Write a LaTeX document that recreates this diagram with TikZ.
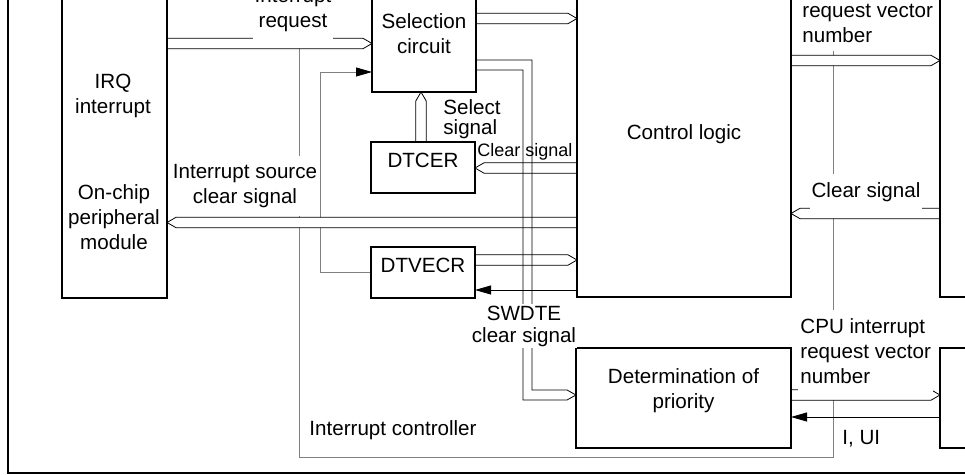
\documentclass[tikz,border=0pt]{standalone}
\usepackage{fontspec}
\setmainfont{Liberation Sans}
\usetikzlibrary{calc,fit,arrows.meta,backgrounds}

\definecolor{ctlgray}{gray}{0.5}
\newcommand\lbl{\fontsize{10.3}{12.5}\selectfont}
\def\busw{2.6pt}
\def\bushd{4.5pt}

\tikzset{
  box/.style={draw, inner sep=0pt, outer sep=0pt, font=\lbl, align=center},
  txt/.style={font=\lbl, align=center, inner sep=1pt},
  % hollow bus arrow, pointed at the target end
  bus/.style={draw, fill=white, line join=miter, to path={
      ($(\tikztostart)!\busw!90:(\tikztotarget)$)
      -- ($(\tikztotarget)!\bushd!(\tikztostart)!\busw!90:(\tikztotarget)$)
      -- (\tikztotarget)
      -- ($(\tikztotarget)!\bushd!(\tikztostart)!\busw!-90:(\tikztotarget)$)
      -- ($(\tikztostart)!\busw!-90:(\tikztotarget)$)}},
  sig/.style={-{Triangle[length=8pt,width=4.5pt,color=black]}}
}

\begin{document}
\begin{tikzpicture}[x=0.5pt, y=0.5pt, line width=0.55pt]

  \useasboundingbox (0,0) rectangle (965,-475);
  \clip (0,0) rectangle (965,-475);

  % blocks
  \node[box, fit={(62,20) (167,-298)}] (src) {};
  \node[box, fit={(372,9) (476,-92)}] (sel) {Selection\\circuit};
  \node[box, fit={(577,14) (791,-297)}] (ctl) {Control logic};
  \node[box, fit={(371,-142) (475,-193)}] (dtcer) {DTCER};
  \node[box, fit={(371,-247) (475,-298)}] (dtvecr) {DTVECR};
  \node[box, fit={(576,-348) (791,-448)}] (prio) {Determination of\\priority};
  \node[box, fit={(940,20) (1000,-297)}] (cpu) {};
  \node[box, fit={(940,-348) (1000,-448)}] (cpuirq) {};

  % bus end points
  \coordinate (reqA) at (src.east |- 0,-43.5);
  \coordinate (reqB) at (sel.west |- 0,-43.5);
  \coordinate (selA) at (sel.east |- 0,-18.5);
  \coordinate (selB) at (ctl.west |- 0,-18.5);
  \coordinate (vecA) at (ctl.east |- 0,-60.5);
  \coordinate (vecB) at (cpu.west |- 0,-60.5);
  \coordinate (clrA) at (cpu.west |- 0,-213.5);
  \coordinate (clrB) at (ctl.east |- 0,-213.5);
  \coordinate (erA) at (ctl.west |- 0,-168);
  \coordinate (erB) at (dtcer.east |- 0,-168);
  \coordinate (srcA) at (ctl.west |- 0,-222.5);
  \coordinate (srcB) at (src.east |- 0,-222.5);
  \coordinate (ssA) at (dtcer.north -| 421,0);
  \coordinate (ssB) at (sel.south -| 421,0);
  \coordinate (vrA) at (dtvecr.east |- 0,-260);
  \coordinate (vrB) at (ctl.west |- 0,-260);
  \coordinate (prA) at (prio.east |- 0,-395);
  \coordinate (prB) at (cpuirq.west |- 0,-395);

  \begin{pgfonlayer}{background}
    % outer frame and interrupt controller outline
    \draw[line width=1.4pt] (8,0) |- (965,-473);
    \draw[ctlgray] (299,0) |- (833,-457) -- (833,0);
    \draw[ctlgray, sig] (dtvecr.west) -| (320,-72) -- (sel.west |- 0,-72);

    \draw[bus] (reqA) to (reqB);
    \draw[bus] (selA) to (selB);
    \draw[bus] (vecA) to (vecB);
    \draw[bus] (clrA) to (clrB);
    \draw[bus] (erA) to (erB);
    \draw[bus] (srcA) to (srcB);
    \draw[bus] (ssA) to (ssB);
    \draw[bus] (vrA) to (vrB);
    \draw[bus] (prA) to (prB);
  \end{pgfonlayer}

  % bus from the selection circuit down to the priority logic
  \draw[line join=miter] (sel.east |- 0,-60) -| (532,-390) -- (567,-390)
    -- (prio.west |- 0,-395) -- (567,-400) -| (523,-70) -- (sel.east |- 0,-70);

  \draw[sig] (ctl.west |- 0,-290) -- (dtvecr.east |- 0,-290);
  \draw[sig] (cpuirq.west |- 0,-417) -- (prio.east |- 0,-417);

  % labels
  \node[txt] (irqlbl) at (113,-96) {IRQ\\interrupt};
  \node[txt] (perlbl) at (114,-217) {On-chip\\peripheral\\module};
  \node[txt, fill=white, inner ysep=4pt] (reqlbl) at (293,-10) {Interrupt\\request};
  \node[txt, inner xsep=0.5pt, inner ysep=4pt, fill=white] (srclbl) at (245,-186) {Interrupt source\\clear signal};
  \node[txt, align=left, anchor=west, font=\fontsize{10.3}{10}\selectfont] (sslbl) at (441,-119) {Select\\signal};
  \node[txt, font=\fontsize{9}{10}\selectfont] (erlbl) at (525,-152) {Clear signal};
  \node[txt, fill=white, inner ysep=4pt] (clrlbl) at (866,-192) {Clear signal};
  \node[txt, fill=white, inner xsep=0.5pt, font=\fontsize{10.3}{11}\selectfont] (swlbl) at (524,-326) {SWDTE\\clear signal};
  \node[txt, fill=white, inner ysep=4pt, align=left, anchor=west] (veclbl) at (800,-10) {CPU interrupt\\request vector\\number};
  \node[txt, fill=white, inner ysep=4pt, align=left, anchor=west] (prlbl) at (798,-351) {CPU interrupt\\request vector\\number};
  \node[txt, anchor=west] (uilbl) at (840,-439) {I, UI};
  \node[txt] (ctrllbl) at (393,-430) {Interrupt controller};

\end{tikzpicture}
\end{document}
